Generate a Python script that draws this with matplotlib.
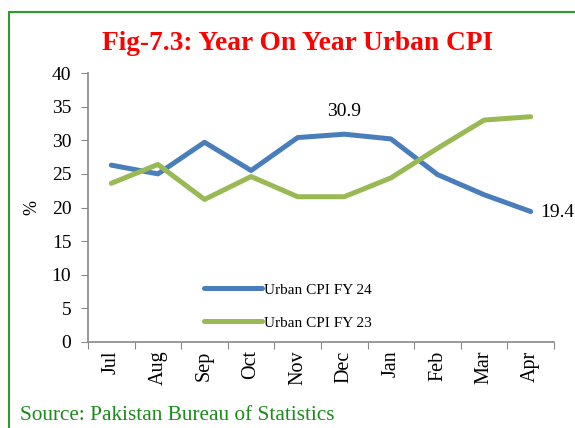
import matplotlib
matplotlib.use("Agg")
import matplotlib.pyplot as plt
from matplotlib.patches import Rectangle

months = ["Jul", "Aug", "Sep", "Oct", "Nov", "Dec", "Jan", "Feb", "Mar", "Apr"]
fy24 = [26.3, 25.0, 29.7, 25.5, 30.4, 30.9, 30.2, 24.9, 21.9, 19.4]
fy23 = [23.6, 26.4, 21.2, 24.6, 21.6, 21.6, 24.4, 28.8, 33.0, 33.5]
yticks = [0, 5, 10, 15, 20, 25, 30, 35, 40]

plt.rcParams['font.family'] = ['Liberation Serif', 'DejaVu Serif']

fig = plt.figure(figsize=(5.75, 4.28), dpi=100)
fig.patches.append(Rectangle((9/575, -0.1), 1.0, 1 - 12/428 + 0.1, transform=fig.transFigure,
                             fill=False, edgecolor='#2e9b2e', linewidth=1.5))

ax = fig.add_axes([88/575, 1 - 342/428, (554 - 88)/575, (342 - 73)/428])
x = list(range(len(months)))
ax.plot(x, fy24, color='#4a7ebb', linewidth=3.6, solid_capstyle='round', label='Urban CPI FY 24')
ax.plot(x, fy23, color='#98b954', linewidth=3.6, solid_capstyle='round', label='Urban CPI FY 23')

ax.set_xlim(-0.5, len(months) - 0.5)
ax.set_ylim(0, 40)
ax.set_yticks(yticks)
ax.set_yticklabels([str(v) for v in yticks], fontsize=14)
ax.set_xticks([i - 0.5 for i in range(len(months) + 1)])
ax.set_xticklabels([])
ax.set_xticks(x, minor=True)
ax.set_xticklabels(months, minor=True, rotation=90, fontsize=14.5)
ax.tick_params(axis='x', which='major', length=5, color='#888888', direction='out')
ax.tick_params(axis='x', which='minor', length=0, pad=6)
ax.tick_params(axis='y', length=5, color='#888888', direction='out', pad=7)
for s in ['top', 'right']:
    ax.spines[s].set_visible(False)
for s in ['left', 'bottom']:
    ax.spines[s].set_color('#888888')
    ax.spines[s].set_linewidth(1.2)

ax.set_ylabel('%', fontsize=13, labelpad=8)

ax.annotate(f"{fy24[5]:.1f}", (5, fy24[5]), xytext=(0, 10), textcoords='offset points',
            ha='center', va='bottom', fontsize=14)
ax.annotate(f"{fy24[9]:.1f}", (9, fy24[9]), xytext=(7, -1), textcoords='offset points',
            ha='left', va='center', fontsize=14, annotation_clip=False)

ax.legend(loc='lower left', bbox_to_anchor=(0.22, -0.005), frameon=False, fontsize=11,
          handlelength=3.8, handletextpad=0.1, labelspacing=1.25)

fig.text(297/575, 1 - 43/428, "Fig-7.3: Year On Year Urban CPI", color='red', fontsize=19.7,
         fontweight='bold', ha='center', va='center')
fig.text(20/575, 1 - 416/428, "Source: Pakistan Bureau of Statistics", color='#1a8a1a',
         fontsize=15.3, ha='left', va='center')

fig.savefig("out.png", dpi=100)
